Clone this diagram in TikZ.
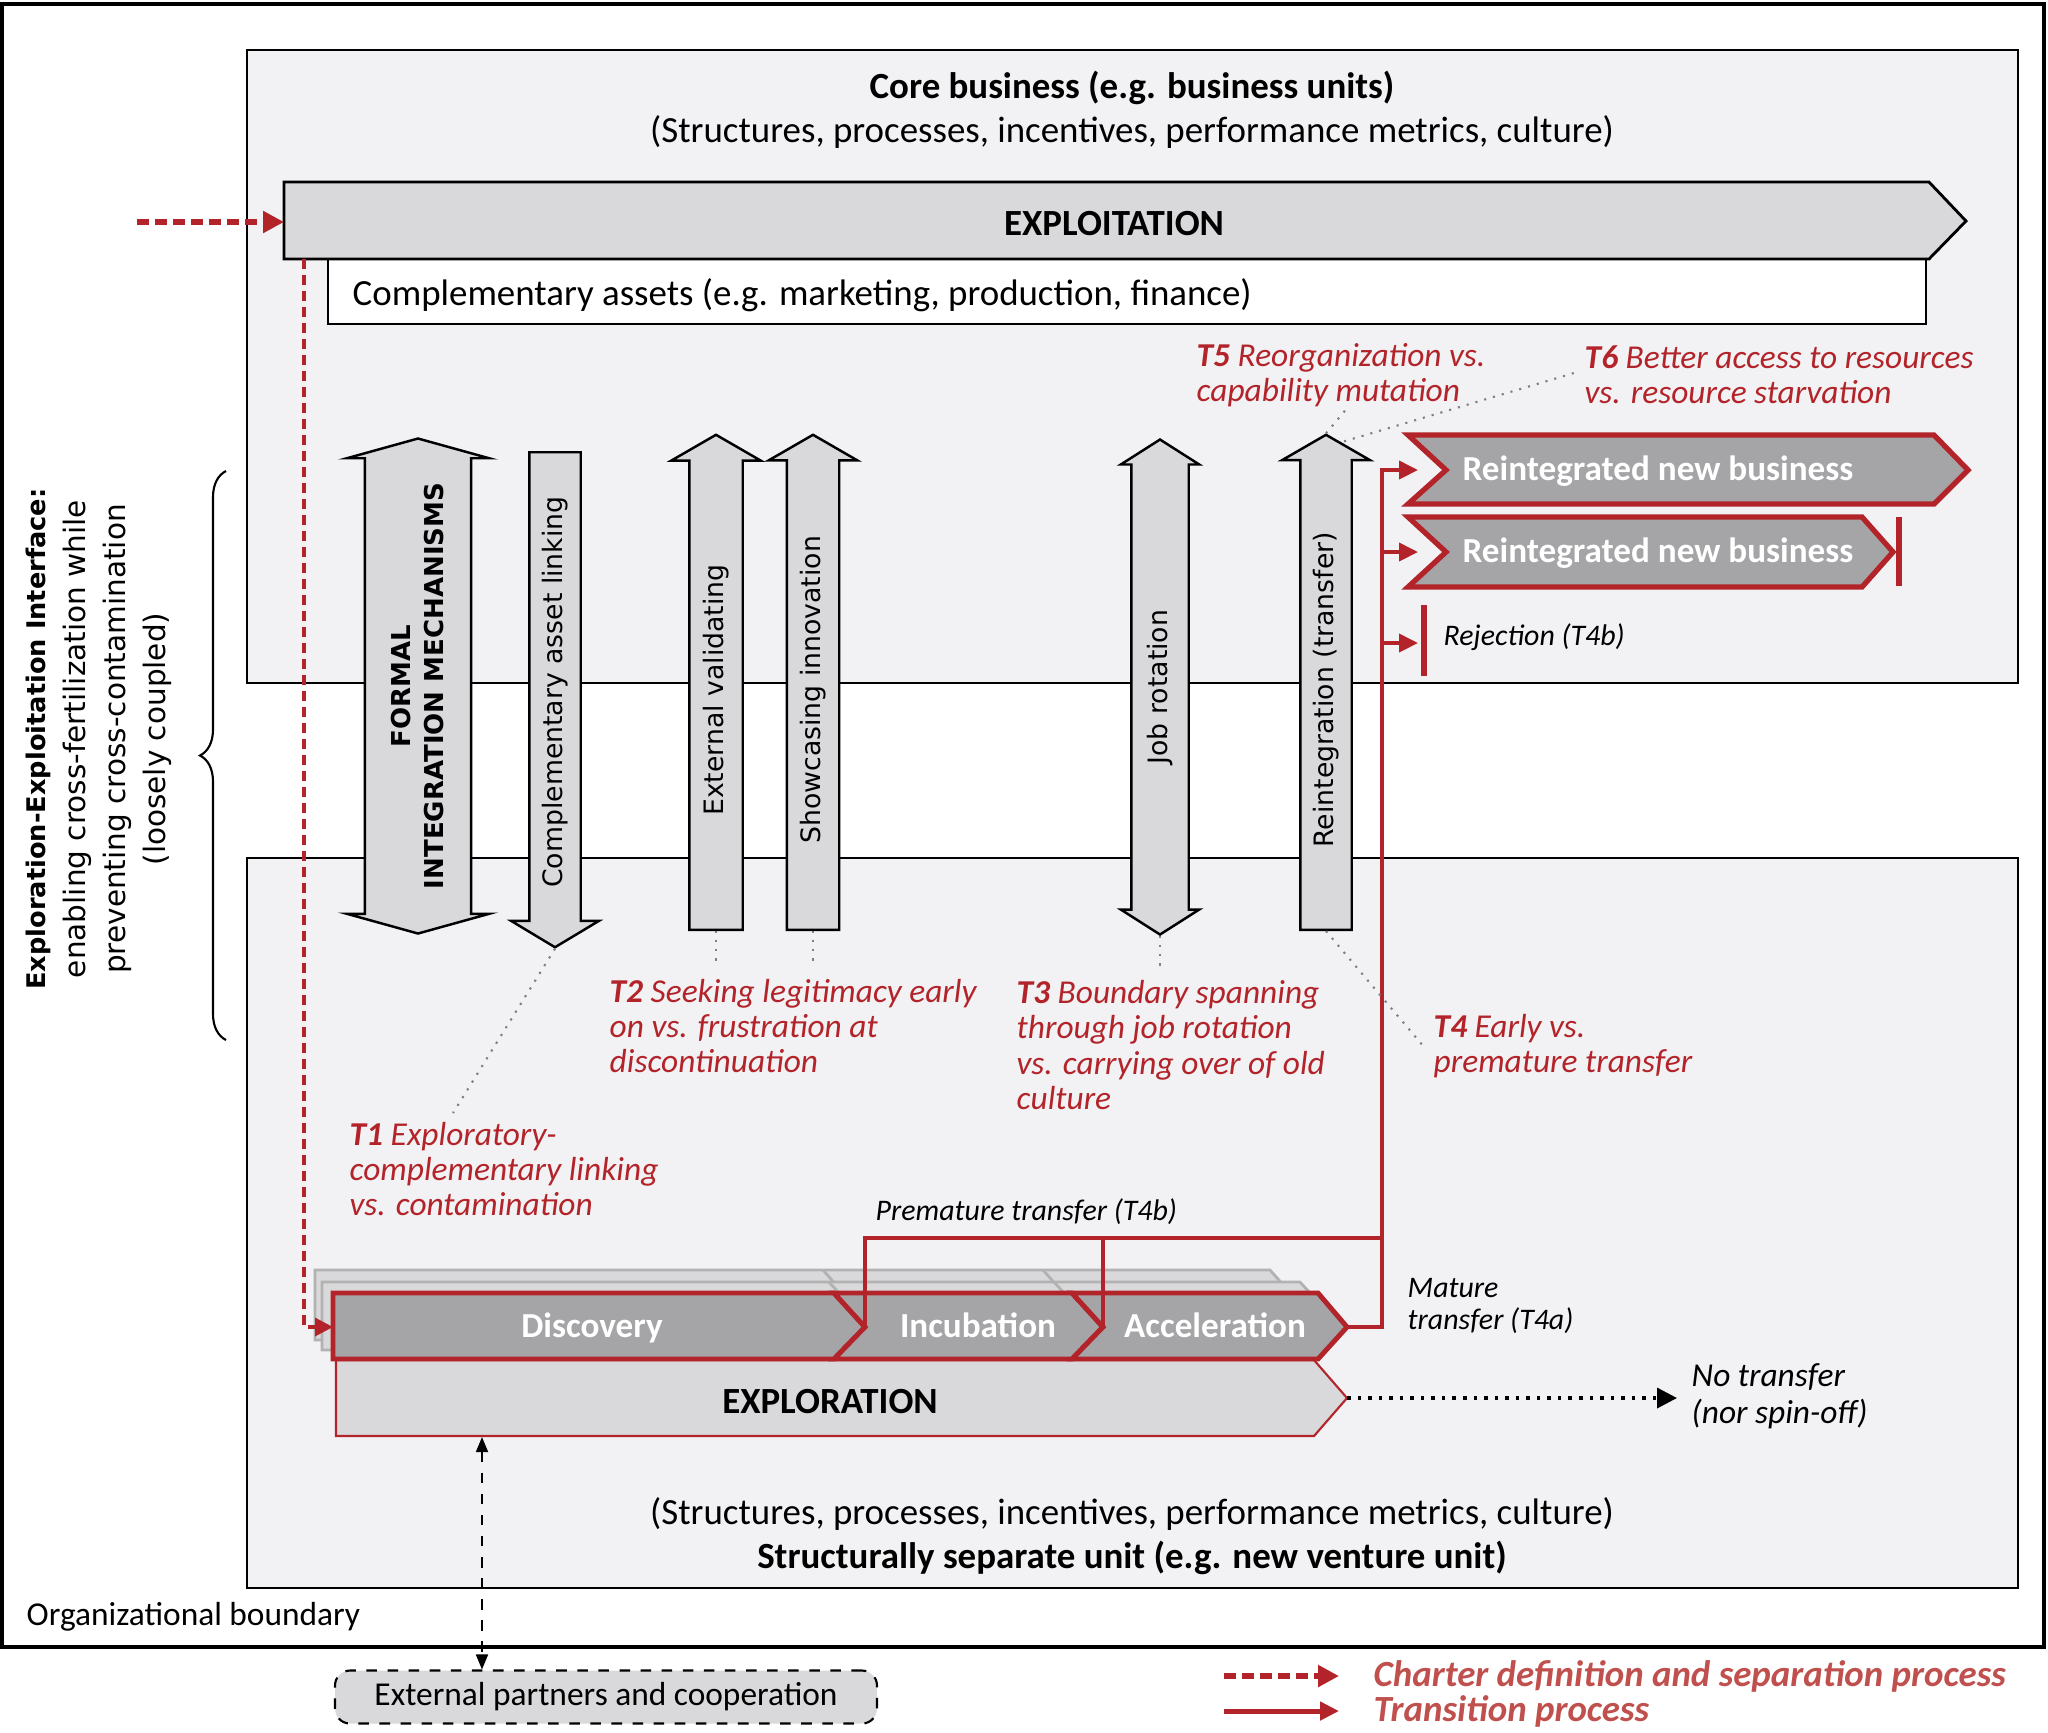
\documentclass[tikz,border=0pt]{standalone}
\usepackage{fontspec}
\setmainfont{Carlito}
\newfontfamily\dejavu{DejaVu Sans}
\usepackage{tikz}
\usetikzlibrary{shapes.arrows, arrows.meta, decorations.pathreplacing, calc}

\definecolor{tred}{RGB}{178,36,42}
\definecolor{legred}{RGB}{192,80,77}
\definecolor{unitfill}{RGB}{242,241,243}
\definecolor{arrowfill}{RGB}{217,217,219}
\definecolor{chevfill}{RGB}{165,164,167}

\begin{document}
\begin{tikzpicture}[x=0.1mm, y=-0.1mm,
    unitbox/.style={draw, line width=0.8pt, fill=unitfill},
    body/.style={inner sep=0pt, yshift=-0.3mm, font=\fontsize{10.5}{12}\selectfont},
    bodybold/.style={inner sep=0pt, yshift=-0.3mm, font=\fontsize{10.5}{12}\selectfont\bfseries},
    varrow/.style={draw, line width=0.7pt, fill=arrowfill, rotate=90, inner xsep=0pt,
        font=\dejavu\fontsize{7.6}{8}\selectfont},
    oneline/.style={text height=2mm, text depth=0.6mm},
    uparrow/.style={varrow, oneline, single arrow, single arrow tip angle=120,
        single arrow head extend=1.8mm, minimum height=49.5mm},
    twoway/.style={varrow, double arrow, minimum height=49.5mm},
    chev/.style={fill=chevfill, draw=tred, line width=1.4pt, line join=miter},
    shadowphase/.style={fill=arrowfill, draw=gray!60, line width=0.8pt},
    chevtext/.style={text=white, inner sep=0pt, text height=2.4mm, text depth=0.7mm,
        font=\fontsize{10}{12}\selectfont\bfseries},
    tlabel/.style={text=tred, anchor=west, align=left, inner sep=0pt,
        font=\fontsize{9.5}{10}\selectfont\itshape},
    note/.style={anchor=west, align=left, inner sep=0pt,
        font=\fontsize{8.5}{9.2}\selectfont\itshape},
    legend/.style={text=legred, anchor=west, inner sep=0pt,
        font=\fontsize{10.5}{12}\selectfont\bfseries\itshape},
    leader/.style={draw=gray, dotted, line width=0.6pt},
    transition/.style={draw=tred, line width=1.1pt, -{Triangle[length=1.9mm, width=1.8mm]}},
    charter/.style={draw=tred, line width=1.6pt, dash pattern=on 1.2mm off 0.6mm,
        -{Triangle[length=2.1mm, width=2.1mm]}},
    separation/.style={draw=tred, line width=1pt, dash pattern=on 1mm off 0.6mm,
        -{Triangle[length=1.8mm, width=1.8mm]}},
]
\useasboundingbox (0,0) rectangle (2048,1732);

% organizational boundary
\draw[line width=1pt] (2,4) rectangle (2044,1647);
\node (orgb) [anchor=west, inner sep=0pt, font=\fontsize{9.5}{11}\selectfont] at (26,1617) {Organizational boundary};

% core business and structurally separate unit
\draw[unitbox] (247,50) rectangle (2018,683);
\draw[unitbox] (247,858) rectangle (2018,1588);
\node (coretitle) [bodybold] at (1132,85) {Core business (e.g. business units)};
\node (corestruct) [body] at (1132,129) {(Structures, processes, incentives, performance metrics, culture)};
\node (sepstruct) [body] at (1132,1511) {(Structures, processes, incentives, performance metrics, culture)};
\node (septitle) [bodybold] at (1132,1555) {Structurally separate unit (e.g. new venture unit)};

% exploitation
\draw[fill=white, line width=0.8pt] (328,258) rectangle (1926,324);
\draw[fill=arrowfill, line width=0.8pt] (284,182) -- (1929,182) -- (1966,221) -- (1929,259) -- (284,259) -- cycle;
\node (exploit) [bodybold] at (1114,221) {EXPLOITATION};
\node (compassets) [body, anchor=west] at (352,292) {Complementary assets (e.g. marketing, production, finance)};
\coordinate (exploitW) at (284,222);
\coordinate (exploitS) at (304,259);
\coordinate (charterstart) at (137,222);

% exploration and its phases
\draw[fill=arrowfill, draw=tred, line width=0.6pt] (336,1360) -- (1314,1360) -- (1347,1398) -- (1314,1436) -- (336,1436) -- cycle;
\node (explore) [bodybold] at (830,1398) {EXPLORATION};
\draw[shadowphase] (315,1270) -- (1270,1270) -- (1301,1305) -- (1270,1340) -- (315,1340) -- cycle;
\draw[shadowphase] (823,1270) -- (854,1305) -- (823,1340);
\draw[shadowphase] (1043,1270) -- (1074,1305) -- (1043,1340);
\draw[shadowphase] (322,1282) -- (1300,1282) -- (1331,1316) -- (1300,1350) -- (322,1350) -- cycle;
\draw[shadowphase] (829,1282) -- (860,1316) -- (829,1350);
\draw[shadowphase] (1054,1282) -- (1085,1316) -- (1054,1350);
\draw[chev] (333,1293) -- (834,1293) -- (865,1327) -- (834,1359) -- (333,1359) -- cycle;
\draw[chev] (834,1293) -- (1072,1293) -- (1103,1327) -- (1072,1359) -- (834,1359) -- (865,1327) -- cycle;
\draw[chev] (1072,1293) -- (1318,1293) -- (1347,1327) -- (1318,1359) -- (1072,1359) -- (1103,1327) -- cycle;
\node (disc) [chevtext] at (592,1329) {Discovery};
\node (incub) [chevtext] at (978,1329) {Incubation};
\node (accel) [chevtext] at (1215,1329) {Acceleration};
\coordinate (discW) at (333,1327);
\coordinate (discTip) at (865,1327);
\coordinate (incTip) at (1103,1327);
\coordinate (accTip) at (1347,1327);
\coordinate (exploreTip) at (1347,1398);
\coordinate (exploreS) at (482,1437);

% charter definition and separation
\draw[charter] (charterstart) -- (exploitW);
\draw[separation] (exploitS) |- (discW);

% interface mechanisms
\node (formal) [twoway, double arrow tip angle=149, double arrow head extend=1.8mm, inner ysep=2.55mm,
    align=center, font=\dejavu\fontsize{7.4}{9.4}\selectfont\bfseries] at (418,686) {FORMAL\\INTEGRATION MECHANISMS};
\node (complink) [uparrow, shape border rotate=180, single arrow tip angle=118,
    inner ysep=1.15mm, anchor=tail] at (555,451) {Complementary asset linking};
\node (extval) [uparrow, inner ysep=1.25mm, anchor=tail] at (716,931) {External validating};
\node (showc) [uparrow, inner ysep=1.2mm, anchor=tail] at (813,931) {Showcasing innovation};
\node (jobrot) [twoway, oneline, double arrow tip angle=115, double arrow head extend=1.05mm,
    inner ysep=1.45mm] at (1160,687) {Job rotation};
\node (reint) [uparrow, inner ysep=1.15mm, anchor=tail] at (1326,931) {Reintegration (transfer)};

% reintegration outcomes
\draw[chev, line width=1.5pt] (1408,435) -- (1934,435) -- (1968,470) -- (1934,504) -- (1408,504) -- (1446,470) -- cycle;
\node (rnbone) [chevtext] at (1658,472) {Reintegrated new business};
\draw[chev, line width=1.5pt] (1408,517) -- (1862,517) -- (1893,552) -- (1862,587) -- (1408,587) -- (1446,552) -- cycle;
\node (rnbtwo) [chevtext] at (1658,554) {Reintegrated new business};
\draw[tred, line width=1.5pt] (1899,517) -- (1899,586);
\draw[tred, line width=1.5pt] (1424,605) -- (1424,676);
\node (reject) [note] at (1443,637) {Rejection (T4b)};
\coordinate (rnboneIn) at (1418,470);
\coordinate (rnbtwoIn) at (1418,552);
\coordinate (rejectIn) at (1418,643);
\coordinate (riseTop) at (1382,470);
\coordinate (junction) at (1382,1238);

% transition process
\draw[transition] (accTip) -| (riseTop) -- (rnboneIn);
\draw[transition] (riseTop |- rnbtwoIn) -- (rnbtwoIn);
\draw[transition] (riseTop |- rejectIn) -- (rejectIn);
\draw[tred, line width=1.1pt] (discTip) |- (junction);
\draw[tred, line width=1.1pt] (incTip) -- (incTip |- junction);

% labels
\node (premature) [note] at (875,1212) {Premature transfer (T4b)};
\node (mature) [note] at (1407,1306) {Mature\\transfer (T4a)};
\node (notransfer) [note, font=\fontsize{9.5}{10.5}\selectfont\itshape] at (1691,1396) {No transfer\\(nor spin-off)};
\draw[dotted, line width=1pt, shorten >=1.4mm, -{Triangle[length=2mm, width=2mm]}] (exploreTip) -- (exploreTip -| notransfer.west);

\node (tone) [tlabel] at (349,1169) {\textbf{T1} Exploratory-\\complementary linking\\vs. contamination};
\node (ttwo) [tlabel] at (609,1026) {\textbf{T2} Seeking legitimacy early\\on vs. frustration at\\discontinuation};
\node (tthree) [tlabel] at (1016,1045) {\textbf{T3} Boundary spanning\\through job rotation\\vs. carrying over of old\\culture};
\node (tfour) [tlabel] at (1433,1046) {\textbf{T4} Early vs.\\premature transfer};
\node (tfive) [tlabel] at (1196,375) {\textbf{T5} Reorganization vs.\\capability mutation};
\node (tsix) [tlabel] at (1584,375) {\textbf{T6} Better access to resources\\vs. resource starvation};
\coordinate (tonetop) at (453,1113);
\coordinate (ttwotop) at (0,967);
\coordinate (tfourend) at (1424,1047);
\coordinate (tfiveend) at (1348,407);
\coordinate (tsixend) at (1574,373);
\draw[leader] (complink.tip) -- (tonetop);
\draw[leader] (extval.tail) -- (extval.tail |- ttwotop);
\draw[leader] (showc.tail) -- (showc.tail |- ttwotop);
\draw[leader] (jobrot.west) -- (jobrot.west |- ttwotop);
\draw[leader] (reint.tail) -- (tfourend);
\draw[leader] (reint.tip) -- (tfiveend);
\draw[leader] ($(reint.tip)+(18,8)$) -- (tsixend);

% exploration-exploitation interface
\draw[decorate, decoration={brace, amplitude=2.6mm}, line width=0.6pt] (226,1040) -- (226,471);
\node (iface) [rotate=90, align=center, font=\dejavu\fontsize{8.4}{11.4}\selectfont] at (99,739)
    {{\fontsize{7.3}{11.4}\selectfont\bfseries Exploration-Exploitation Interface:}\\enabling cross-fertilization while\\preventing cross-contamination\\(loosely coupled)};

% external partners
\node (partners) [draw, dashed, rounded corners=1.5mm, fill=arrowfill, line width=0.6pt,
    minimum width=54.2mm, minimum height=5.3mm, font=\fontsize{9.5}{11}\selectfont] at (606,1697) {External partners and cooperation};
\draw[dashed, line width=0.5pt, {Triangle[length=1.5mm, width=1.2mm]}-{Triangle[length=1.5mm, width=1.2mm]}] (exploreS) -- (partners.north -| exploreS);

% legend
\coordinate (legA) at (1224,1676);
\coordinate (legAend) at (1339,1676);
\coordinate (legB) at (1224,1711);
\coordinate (legBend) at (1339,1711);
\draw[charter] (legA) -- (legAend);
\draw[transition, line width=1.4pt] (legB) -- (legBend);
\node (legcharter) [legend] at (1373,1676) {Charter definition and separation process};
\node (legtrans) [legend] at (1373,1711) {Transition process};
\end{tikzpicture}
\end{document}
